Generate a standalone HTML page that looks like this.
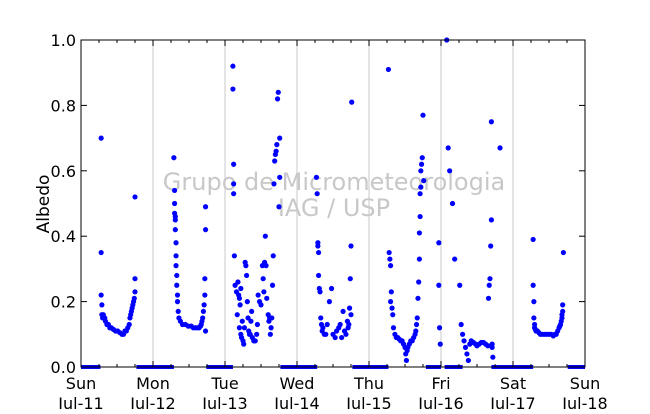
<!DOCTYPE html>
<html><head><meta charset="utf-8"><style>
body{margin:0;background:#fff;}
svg text{font-family:"DejaVu Sans","Liberation Sans",sans-serif;}
</style></head><body>
<svg id="chart" width="650" height="409" xmlns="http://www.w3.org/2000/svg">
<rect x="0" y="0" width="650" height="409" fill="#fff"/>
<g id="grid"></g>
<g id="watermark">
<text x="334" y="190" text-anchor="middle" font-size="24" fill="#c8c8c8">Grupo de Micrometeorologia</text>
<text x="334" y="216" text-anchor="middle" font-size="24" fill="#c8c8c8">IAG / USP</text>
</g>
<g id="marks"></g>
<rect x="81" y="40" width="504" height="327" fill="none" stroke="#000" stroke-width="1"/>
<g id="axes"></g>
<text transform="translate(49,204) rotate(-90)" text-anchor="middle" font-size="17">Albedo</text>
</svg>
<script>
const dayLabels=["Sun","Mon","Tue","Wed","Thu","Fri","Sat","Sun"];
const dateLabels=["Jul-11","Jul-12","Jul-13","Jul-14","Jul-15","Jul-16","Jul-17","Jul-18"];
const yTicks=[0,0.2,0.4,0.6,0.8,1.0];
const zeroRuns=[[0,0.27],[0.77,1.29],[1.74,2.11],[2.77,3.28],[3.77,4.27],[4.79,5.0],[5.05,5.3],[5.7,6.28],[6.76,7.0]];
const obsDays=[0.28,0.28,0.28,0.29,0.29,0.30,0.31,0.32,0.33,0.34,0.36,0.38,0.40,0.42,0.45,0.48,0.51,0.54,0.57,0.59,0.61,0.63,0.65,0.67,0.68,0.69,0.70,0.71,0.72,0.73,0.74,0.75,0.75,0.75,
1.29,1.30,1.30,1.30,1.31,1.31,1.31,1.32,1.32,1.32,1.33,1.33,1.34,1.34,1.35,1.36,1.38,1.41,1.45,1.49,1.53,1.56,1.59,1.62,1.64,1.66,1.67,1.68,1.69,1.70,1.71,1.72,1.72,1.73,1.73,1.73,
2.11,2.11,2.12,2.12,2.12,2.13,2.14,2.16,2.17,2.18,2.19,2.20,2.20,2.21,2.22,2.22,2.23,2.24,2.25,2.26,2.27,2.28,2.29,2.30,2.31,2.32,2.33,2.34,2.35,2.36,2.37,2.38,2.40,2.42,2.44,2.45,2.46,2.48,2.50,2.52,2.53,2.54,2.55,2.56,2.57,2.58,2.60,2.61,2.62,2.63,2.64,2.65,2.66,2.67,2.68,2.69,2.70,2.71,2.72,2.73,2.74,2.75,2.76,2.76,
3.27,3.28,3.29,3.29,3.30,3.30,3.31,3.32,3.33,3.34,3.35,3.36,3.38,3.40,3.42,3.45,3.48,3.50,3.53,3.55,3.58,3.60,3.62,3.64,3.66,3.68,3.70,3.71,3.72,3.73,3.74,3.75,3.75,3.76,
4.27,4.28,4.29,4.30,4.30,4.31,4.32,4.33,4.34,4.36,4.38,4.40,4.42,4.44,4.46,4.48,4.50,4.51,4.52,4.53,4.54,4.56,4.58,4.60,4.62,4.64,4.65,4.66,4.67,4.68,4.69,4.70,4.70,4.71,4.71,4.72,4.72,4.73,4.74,4.75,4.76,
4.97,4.97,4.98,4.99,5.08,5.10,5.12,5.16,5.19,5.26,5.28,5.30,5.32,5.34,5.36,5.38,5.40,5.42,5.45,5.48,5.50,5.53,5.56,5.59,5.62,5.65,5.66,5.67,5.68,5.69,5.70,5.70,5.71,5.71,5.72,5.82,
6.28,6.28,6.29,6.29,6.30,6.30,6.31,6.32,6.34,6.36,6.38,6.41,6.44,6.47,6.50,6.53,6.56,6.58,6.60,6.62,6.64,6.65,6.66,6.67,6.68,6.68,6.69,6.69,6.70];
const albedo=[0.70,0.35,0.22,0.19,0.16,0.15,0.16,0.15,0.15,0.14,0.13,0.13,0.12,0.12,0.115,0.11,0.11,0.105,0.10,0.10,0.11,0.11,0.12,0.13,0.15,0.16,0.17,0.18,0.19,0.20,0.21,0.23,0.27,0.52,
0.64,0.54,0.50,0.47,0.46,0.45,0.42,0.38,0.34,0.31,0.28,0.25,0.22,0.20,0.17,0.15,0.14,0.13,0.13,0.125,0.125,0.12,0.12,0.12,0.12,0.125,0.13,0.14,0.15,0.17,0.19,0.22,0.27,0.49,0.42,0.11,
0.92,0.85,0.62,0.53,0.56,0.34,0.25,0.23,0.16,0.26,0.22,0.21,0.12,0.19,0.10,0.24,0.09,0.14,0.08,0.07,0.12,0.32,0.31,0.28,0.20,0.15,0.11,0.10,0.10,0.14,0.17,0.09,0.08,0.08,0.10,0.13,0.22,0.20,0.19,0.31,0.27,0.23,0.32,0.40,0.31,0.21,0.16,0.14,0.15,0.10,0.12,0.15,0.25,0.34,0.56,0.63,0.65,0.66,0.68,0.82,0.84,0.49,0.70,0.58,
0.58,0.53,0.37,0.38,0.35,0.28,0.24,0.23,0.15,0.13,0.11,0.12,0.10,0.10,0.13,0.20,0.24,0.10,0.09,0.11,0.12,0.13,0.09,0.17,0.11,0.10,0.14,0.12,0.13,0.18,0.27,0.16,0.37,0.81,
0.91,0.35,0.33,0.31,0.20,0.23,0.18,0.16,0.12,0.10,0.09,0.09,0.085,0.08,0.08,0.07,0.06,0.04,0.02,0.05,0.06,0.07,0.08,0.08,0.09,0.10,0.11,0.13,0.15,0.21,0.26,0.33,0.41,0.46,0.53,0.55,0.60,0.62,0.64,0.77,0.57,
0.38,0.25,0.12,0.07,1.0,0.67,0.60,0.50,0.33,0.25,0.13,0.10,0.08,0.06,0.04,0.02,0.07,0.08,0.075,0.07,0.065,0.07,0.075,0.075,0.07,0.065,0.21,0.25,0.27,0.37,0.45,0.75,0.07,0.06,0.03,0.67,
0.39,0.25,0.20,0.15,0.13,0.12,0.115,0.11,0.11,0.105,0.10,0.10,0.10,0.10,0.10,0.10,0.095,0.10,0.10,0.11,0.12,0.125,0.13,0.14,0.15,0.16,0.17,0.19,0.35];
const X0=81,X1=585,Y0=367,Y1=40;
const xs=d=>X0+d*(X1-X0)/7;
const ys=v=>Y0-v*(Y0-Y1);
const NS="http://www.w3.org/2000/svg";
function mk(tag,attrs,parent){const e=document.createElementNS(NS,tag);for(const k in attrs)e.setAttribute(k,attrs[k]);parent.appendChild(e);return e;}
const grid=document.getElementById('grid'),axes=document.getElementById('axes'),marks=document.getElementById('marks');
for(let i=1;i<7;i++){const l=mk('line',{x1:xs(i),x2:xs(i),y1:Y1,y2:Y0,stroke:'#c8c8c8','stroke-width':1},grid);

}
for(let i=0;i<=28;i++){const x=xs(i/4),h=(i%4===0)?6:3;
const t1=mk('line',{x1:x,x2:x,y1:Y0,y2:Y0-h,stroke:'#000'},axes);


const t2=mk('line',{x1:x,x2:x,y1:Y1,y2:Y1+h,stroke:'#000'},axes);

}
dayLabels.forEach((d,i)=>{const t=mk('text',{x:xs(i),y:389,'text-anchor':'middle','font-size':16},axes);t.textContent=d;


const t2=mk('text',{x:xs(i),y:409,'text-anchor':'middle','font-size':16},axes);t2.textContent=dateLabels[i];

});
yTicks.forEach(v=>{const y=ys(v);
const a=mk('line',{x1:X0,x2:X0+6,y1:y,y2:y,stroke:'#000'},axes);


const b=mk('line',{x1:X1,x2:X1-6,y1:y,y2:y,stroke:'#000'},axes);


const t=mk('text',{x:76,y:y+6,'text-anchor':'end','font-size':16},axes);t.textContent=v.toFixed(1);

});
zeroRuns.forEach(r=>{const l=mk('line',{x1:xs(r[0]),x2:xs(r[1]),y1:ys(0),y2:ys(0),stroke:'#0000ff','stroke-width':4},marks);

});
obsDays.forEach((d,i)=>{const c=mk('circle',{cx:xs(d),cy:ys(albedo[i]),r:2.6,fill:'#0000ff'},marks);

});
</script>
</body></html>
